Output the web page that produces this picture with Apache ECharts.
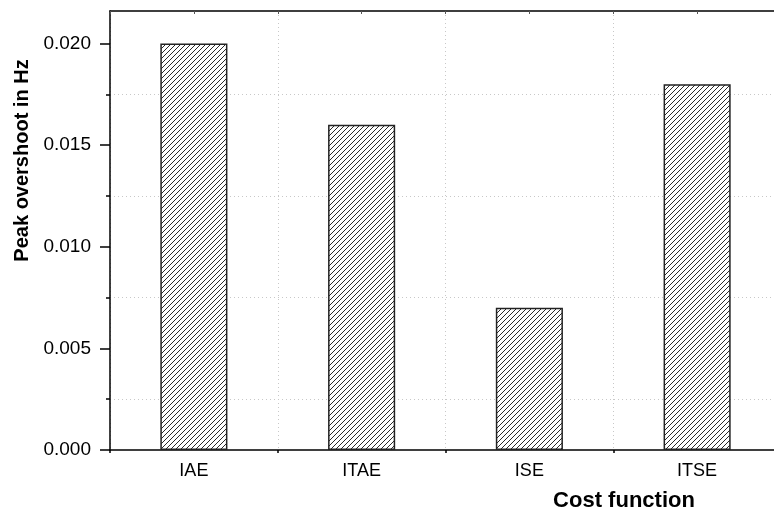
<!DOCTYPE html>
<html>
<head>
<meta charset="utf-8">
<script src="https://cdn.jsdelivr.net/npm/echarts@6/dist/echarts.min.js"></script>
<style>
  html, body { margin: 0; padding: 0; background: #fff; }
  #peakChart { width: 774px; height: 510px; }
</style>
</head>
<body>
<div id="peakChart"></div>
<script>
var costFunctions = ['IAE', 'ITAE', 'ISE', 'ITSE'];
var peakOvershoot = [0.020, 0.016, 0.007, 0.018];
var yMajorTicks = [0, 0.005, 0.010, 0.015, 0.020];
var yMinorTicks = [0.0025, 0.0075, 0.0125, 0.0175];

// hatch fill ///
var tile = document.createElement('canvas');
tile.width = 5;
tile.height = 5;
var ctx = tile.getContext('2d');
ctx.fillStyle = '#fff';
ctx.fillRect(0, 0, 5, 5);
ctx.strokeStyle = '#2a2a2a';
ctx.lineWidth = 1;
ctx.beginPath();
ctx.moveTo(-1, 6); ctx.lineTo(6, -1);
ctx.moveTo(-1, 1); ctx.lineTo(1, -1);
ctx.moveTo(4, 6); ctx.lineTo(6, 4);
ctx.stroke();

var font = 'Liberation Sans, Arial, sans-serif';
var dotted = { show: true, lineStyle: { color: '#c8c8c8', type: [1, 3], width: 1 } };

var peakChart = echarts.init(document.getElementById('peakChart'));
peakChart.setOption({
    animation: false,
    grid: { left: 110, top: 11, right: -7, bottom: 60, outerBoundsMode: 'none', containLabel: false },
    xAxis: [{
        type: 'category',
        data: costFunctions,
        position: 'bottom',
        axisLine: { lineStyle: { color: '#000', width: 1.5 } },
        axisTick: { alignWithLabel: true, length: 5, lineStyle: { color: '#000', width: 1.5 } },
        axisLabel: { color: '#000', fontFamily: font, fontSize: 18, margin: 12 },
        splitLine: { show: false },
        name: 'Cost function',
        nameLocation: 'middle',
        nameGap: 40,
        nameTextStyle: { color: '#000', fontFamily: font, fontSize: 22, fontWeight: 'bold', padding: [0, 0, 0, 357] }
    }, {
        type: 'value',
        position: 'bottom',
        min: 0, max: 4, interval: 1,
        axisLine: { show: false },
        axisTick: { show: true, length: 3, lineStyle: { color: '#000', width: 1.5 } },
        axisLabel: { show: false },
        splitLine: dotted
    }, {
        type: 'value',
        position: 'top',
        min: 0, max: 4, interval: 0.5,
        axisLine: { show: true, lineStyle: { color: '#000', width: 1.5 } },
        axisTick: { show: true, inside: true, length: 3, lineStyle: { color: '#555', width: 1 } },
        axisLabel: { show: false },
        splitLine: { show: false }
    }],
    yAxis: [{
        type: 'value',
        position: 'left',
        min: 0, max: 0.0216, interval: 0.005,
        axisLine: { show: true, lineStyle: { color: '#000', width: 1.5 } },
        axisTick: { show: true, customValues: yMajorTicks, length: 10, lineStyle: { color: '#000', width: 1.5 } },
        axisLabel: {
            customValues: yMajorTicks,
            color: '#000', fontFamily: font, fontSize: 19, margin: 19,
            formatter: function (v) { return v.toFixed(3); }
        },
        splitLine: { show: false },
        name: 'Peak overshoot in Hz',
        nameLocation: 'middle',
        nameGap: 78,
        nameTextStyle: { color: '#000', fontFamily: font, fontSize: 20, fontWeight: 'bold', padding: [0, 0, 0, 140] }
    }, {
        type: 'value',
        position: 'left',
        min: 0, max: 0.0216,
        axisLine: { show: false },
        axisTick: { show: true, customValues: yMinorTicks, length: 4, lineStyle: { color: '#000', width: 1.5 } },
        axisLabel: { show: false },
        splitLine: dotted
    }],
    series: [{
        type: 'bar',
        xAxisIndex: 0,
        yAxisIndex: 0,
        data: peakOvershoot,
        barWidth: '40%',
        itemStyle: {
            color: { image: tile, repeat: 'repeat' },
            borderColor: '#222',
            borderWidth: 1.5
        }
    }]
});

window.addEventListener('resize', function () {
    peakChart.resize();
});
</script>
</body>
</html>
